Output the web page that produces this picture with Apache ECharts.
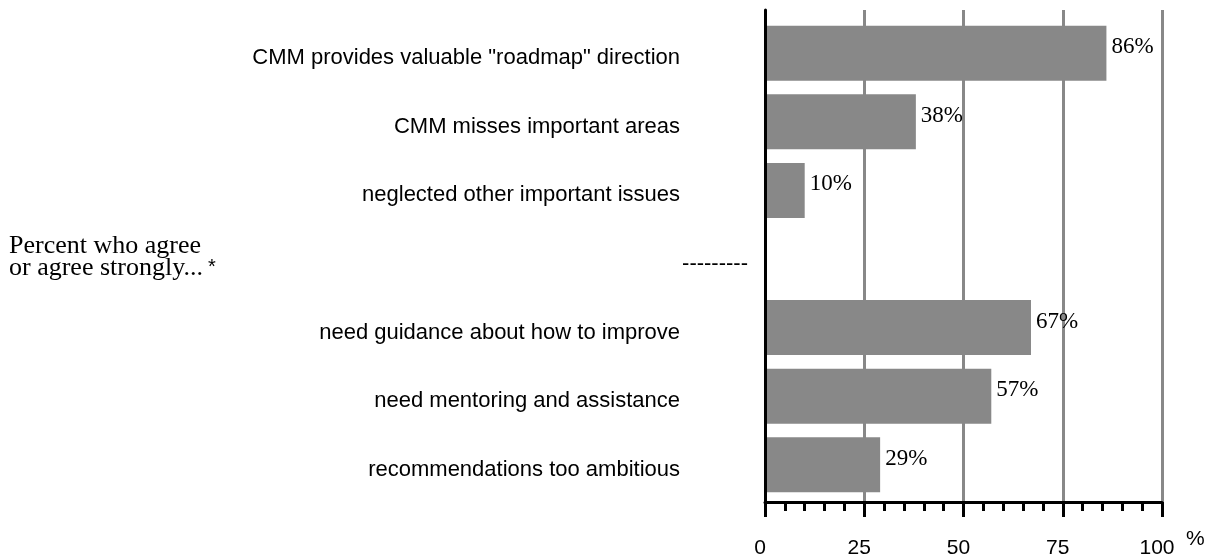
<!DOCTYPE html>
<html>
<head>
<meta charset="utf-8">
<script src="https://cdn.jsdelivr.net/npm/echarts@6/dist/echarts.min.js"></script>
<style>
  html, body { margin: 0; padding: 0; background: #fff; }
  #main { width: 1218px; height: 559px; }
</style>
</head>
<body>
<div id="main"></div>
<script>
  // data
  const categories = [
    'CMM provides valuable "roadmap" direction',
    'CMM misses important areas',
    'neglected other important issues',
    '---------',
    'need guidance about how to improve',
    'need mentoring and assistance',
    'recommendations too ambitious'
  ];
  const agreePct = [86, 38, 10, null, 67, 57, 29];
  const xMin = 0;
  const xMax = 100;
  const xStep = 25;
  const sideNote = 'Percent who agree\nor agree strongly...';

  var myChart = echarts.init(document.getElementById('main'));
  var sans = '"Liberation Sans", Arial, sans-serif';
  var serif = '"Liberation Serif", "Times New Roman", serif';

  var option = {
    animation: false,
    grid: [
      // frame: axis lines, ticks, gridlines
      { left: 765, right: 56, top: 10, bottom: 56 },
      // bars and category labels
      { left: 765, right: 56, top: 19, bottom: 60 }
    ],
    xAxis: [{
      gridIndex: 0,
      type: 'value',
      min: xMin,
      max: xMax,
      interval: xStep,
      name: '{p|%}',
      nameLocation: 'end',
      nameGap: 24,
      nameTextStyle: {
        rich: {
          p: { fontFamily: sans, fontSize: 21, color: '#000', padding: [74, 0, 0, 0] }
        }
      },
      axisLine: { show: true, lineStyle: { color: '#000', width: 3 } },
      axisTick: { show: true, length: 15, lineStyle: { color: '#000', width: 3 } },
      minorTick: { show: true, splitNumber: 5, length: 9, lineStyle: { color: '#000', width: 3 } },
      axisLabel: {
        fontFamily: sans, fontSize: 21, color: '#000', margin: 36,
        padding: [0, 10, 0, 0]
      },
      splitLine: { show: true, lineStyle: { color: '#888', width: 3 } },
      z: 1
    }, {
      gridIndex: 1,
      type: 'value',
      min: xMin,
      max: xMax,
      show: false
    }],
    yAxis: [{
      gridIndex: 0,
      type: 'value',
      axisLine: { show: true, lineStyle: { color: '#000', width: 3 } },
      axisTick: { show: false },
      axisLabel: { show: false },
      splitLine: { show: false },
      z: 10
    }, {
      gridIndex: 1,
      type: 'category',
      data: categories,
      inverse: true,
      axisLine: { show: false },
      axisTick: { show: false },
      axisLabel: {
        margin: 17,
        formatter: function (v) {
          return v === '---------' ? '{d|' + v + '}' : '{t|' + v + '}';
        },
        rich: {
          t: { fontFamily: sans, fontSize: 22, color: '#000', padding: [10, 68, 0, 0] },
          d: { fontFamily: sans, fontSize: 22, color: '#000', padding: [10, 0, 0, 0] }
        }
      }
    }],
    graphic: [{
      type: 'text',
      left: 9,
      top: 233,
      style: {
        text: sideNote + '{s|*}',
        font: '26px ' + serif,
        fill: '#000',
        lineHeight: 22,
        rich: {
          s: { fontFamily: sans, fontSize: 20, verticalAlign: 'top', padding: [0, 0, 12, 5], fill: '#000' }
        }
      }
    }],
    series: [{
      name: 'agree',
      type: 'bar',
      xAxisIndex: 1,
      yAxisIndex: 1,
      data: agreePct,
      barWidth: 55,
      itemStyle: { color: '#888888' },
      label: {
        show: true,
        position: 'right',
        distance: 5,
        offset: [0, -6],
        fontFamily: serif,
        fontSize: 23,
        color: '#000',
        formatter: function (p) {
          return p.value == null ? '' : p.value + '%';
        }
      },
      z: 2
    }]
  };

  option && myChart.setOption(option);
</script>
</body>
</html>
